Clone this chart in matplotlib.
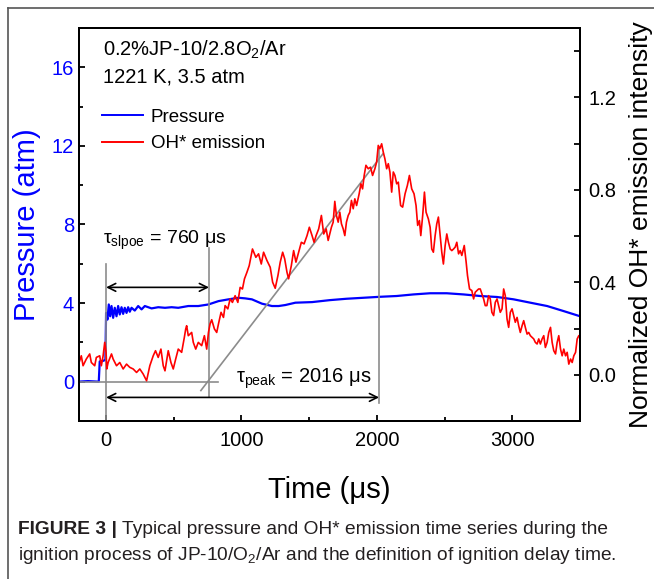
import matplotlib
matplotlib.use('Agg')
import matplotlib.pyplot as plt
from matplotlib.ticker import MultipleLocator, FormatStrFormatter
from matplotlib.lines import Line2D

plt.rcParams['font.family'] = ['Liberation Sans', 'DejaVu Sans']
plt.rcParams['mathtext.fontset'] = 'custom'
plt.rcParams['mathtext.rm'] = 'Liberation Sans'
plt.rcParams['mathtext.it'] = 'Liberation Sans:italic'
plt.rcParams['mathtext.bf'] = 'Liberation Sans:bold'

# pressure trace (us, atm)
p_time = [-207, -133, -54, -47, -22, -5, 0, 10, 20, 30, 40, 52, 64, 77, 89, 101, 114,
          126, 138, 151, 163, 175, 188, 212, 237, 262, 286, 336, 385, 435, 484, 533,
          607, 681, 756, 830, 904, 978, 1027, 1077, 1151, 1225, 1274, 1323, 1398,
          1521, 1652, 1775, 1899, 2022, 2146, 2269, 2393, 2516, 2640, 2763, 2887,
          3010, 3133, 3257, 3380, 3500]
p_atm = [0.0, 0.03, 0.0, 1.03, 1.06, 1.11, 3.5, 3.16, 3.93, 3.33, 3.85, 3.25, 3.76,
         3.33, 3.85, 3.42, 3.79, 3.45, 3.76, 3.50, 3.79, 3.56, 3.76, 3.62, 3.85, 3.68,
         3.85, 3.73, 3.79, 3.76, 3.79, 3.76, 3.85, 3.85, 3.93, 4.10, 4.19, 4.27, 4.24,
         4.19, 3.97, 3.85, 3.85, 3.90, 4.02, 4.05, 4.15, 4.22, 4.27, 4.32, 4.36, 4.44,
         4.50, 4.50, 4.44, 4.36, 4.31, 4.19, 4.02, 3.85, 3.59, 3.33]

# OH* emission trace (us, normalized)
oh_time = [-207, -183, -170, -146, -121, -109, -84, -72, -47, -35, -22, -10, 0, 5, 15,
           40, 52, 77, 101, 126, 151, 175, 200, 225, 249, 274, 299, 323, 348, 365, 385,
           405, 422, 435, 459, 479, 496, 514, 533, 558, 578, 588, 595, 607, 632, 644,
           662, 681, 706, 726, 743, 756, 768, 780, 800, 817, 830, 849, 867, 879, 899,
           916, 933, 953, 973, 990, 1007, 1022, 1040, 1057, 1072, 1081, 1106, 1126,
           1146, 1163, 1188, 1212, 1230, 1249, 1269, 1286, 1304, 1319, 1336, 1348,
           1368, 1385, 1402, 1422, 1442, 1462, 1484, 1501, 1521, 1536, 1551, 1570,
           1590, 1607, 1625, 1640, 1652, 1664, 1677, 1689, 1701, 1714, 1726, 1738,
           1751, 1763, 1775, 1788, 1800, 1812, 1825, 1837, 1850, 1869, 1882, 1894,
           1906, 1919, 1936, 1953, 1968, 1985, 1998, 2010, 2022, 2035, 2047, 2059,
           2072, 2084, 2096, 2109, 2121, 2133, 2146, 2158, 2175, 2190, 2208, 2225,
           2240, 2257, 2274, 2289, 2301, 2314, 2324, 2338, 2351, 2363, 2380, 2393,
           2405, 2417, 2430, 2442, 2454, 2467, 2479, 2491, 2504, 2516, 2528, 2541,
           2553, 2566, 2578, 2590, 2603, 2615, 2627, 2645, 2659, 2669, 2684, 2701,
           2714, 2726, 2738, 2751, 2763, 2775, 2788, 2800, 2812, 2825, 2837, 2849,
           2862, 2874, 2887, 2899, 2911, 2924, 2936, 2948, 2961, 2973, 2985, 2998,
           3010, 3022, 3035, 3047, 3059, 3072, 3084, 3096, 3109, 3121, 3133, 3146,
           3158, 3170, 3183, 3195, 3207, 3220, 3232, 3244, 3257, 3269, 3282, 3294,
           3306, 3319, 3331, 3343, 3356, 3368, 3380, 3393, 3405, 3417, 3430, 3442,
           3454, 3467, 3479, 3491, 3504]
oh_norm = [0.039, 0.082, 0.039, 0.068, 0.090, 0.053, 0.039, 0.075, 0.082, 0.039, 0.082,
           0.140, 0.097, 0.025, 0.053, 0.090, 0.068, 0.039, 0.053, 0.025, 0.046, 0.032,
           0.025, 0.010, 0.025, 0.003, -0.026, 0.039, 0.082, 0.104, 0.075, 0.111, 0.039,
           0.017, 0.104, 0.053, 0.025, 0.068, 0.111, 0.097, 0.162, 0.198, 0.212, 0.169,
           0.183, 0.140, 0.111, 0.140, 0.126, 0.169, 0.111, 0.183, 0.220, 0.238, 0.198,
           0.183, 0.220, 0.270, 0.248, 0.299, 0.285, 0.328, 0.313, 0.342, 0.313, 0.378,
           0.371, 0.415, 0.443, 0.472, 0.516, 0.544, 0.508, 0.523, 0.479, 0.530, 0.494,
           0.465, 0.400, 0.374, 0.429, 0.487, 0.530, 0.501, 0.443, 0.415, 0.472, 0.537,
           0.487, 0.530, 0.573, 0.566, 0.602, 0.638, 0.602, 0.573, 0.602, 0.631, 0.689,
           0.609, 0.631, 0.581, 0.609, 0.638, 0.660, 0.750, 0.689, 0.660, 0.703, 0.653,
           0.631, 0.602, 0.660, 0.689, 0.703, 0.754, 0.718, 0.761, 0.732, 0.783, 0.826,
           0.804, 0.862, 0.906, 0.891, 0.898, 0.862, 0.891, 0.920, 0.992, 0.978, 0.999,
           0.963, 0.934, 0.891, 0.913, 0.877, 0.790, 0.877, 0.862, 0.826, 0.833, 0.732,
           0.725, 0.783, 0.819, 0.862, 0.804, 0.783, 0.732, 0.646, 0.667, 0.602, 0.689,
           0.790, 0.703, 0.674, 0.638, 0.544, 0.530, 0.602, 0.653, 0.682, 0.602, 0.530,
           0.479, 0.559, 0.609, 0.573, 0.544, 0.537, 0.544, 0.552, 0.573, 0.523, 0.537,
           0.516, 0.559, 0.487, 0.429, 0.371, 0.364, 0.328, 0.357, 0.364, 0.371, 0.371,
           0.350, 0.328, 0.299, 0.299, 0.342, 0.328, 0.270, 0.256, 0.313, 0.328, 0.299,
           0.270, 0.285, 0.371, 0.342, 0.241, 0.205, 0.270, 0.285, 0.256, 0.227, 0.248,
           0.212, 0.183, 0.212, 0.234, 0.205, 0.176, 0.183, 0.169, 0.162, 0.155, 0.140,
           0.133, 0.155, 0.133, 0.155, 0.169, 0.118, 0.140, 0.183, 0.205, 0.140, 0.104,
           0.090, 0.140, 0.169, 0.111, 0.082, 0.111, 0.082, 0.097, 0.046, 0.068, 0.053,
           0.082, 0.097, 0.155, 0.169, 0.169]

tau_slope = 760
tau_peak = 2016

fig = plt.figure(figsize=(6.54, 5.79), dpi=100)
ax = fig.add_axes([0.1208, 0.2729, 0.7661, 0.6788])
ax2 = ax.twinx()

ax.plot(p_time, p_atm, color='#0000ff', lw=1.6)
ax2.plot(oh_time, oh_norm, color='#ff0000', lw=1.2)

# construction lines for ignition delay
gray = '#8c8c8c'
ax.plot([-200, 830], [0, 0], color=gray, lw=1.2)
ax.plot([0, 0], [-2, 6.0], color=gray, lw=1.2)
ax.plot([tau_slope, tau_slope], [-0.8, 6.8], color=gray, lw=1.2)
ax.plot([tau_peak, tau_peak], [-1.1, 11.9], color=gray, lw=1.2)
ax.plot([700, 2045], [-0.45, 11.6], color=gray, lw=1.2)

ax.annotate('', xy=(tau_slope, 4.8), xytext=(0, 4.8),
            arrowprops=dict(arrowstyle='<->', color='black', lw=1.2,
                            shrinkA=0, shrinkB=0, mutation_scale=14))
ax.annotate('', xy=(tau_peak, -0.8), xytext=(0, -0.8),
            arrowprops=dict(arrowstyle='<->', color='black', lw=1.2,
                            shrinkA=0, shrinkB=0, mutation_scale=14))

ax.text(-22, 7.2, r'$\mathregular{τ_{slpoe}}$ = 760 μs', fontsize=14, va='center')
ax.text(958, 0.15, r'$\mathregular{τ_{peak}}$ = 2016 μs', fontsize=14.5, va='center')
ax.text(-22, 16.9, r'0.2%JP-10/2.8O$\mathregular{_2}$/Ar', fontsize=14.5, va='center')
ax.text(-22, 15.5, '1221 K, 3.5 atm', fontsize=14.5, va='center')

ax.set_xlim(-200, 3500)
ax.set_ylim(-2, 18)
ax2.set_ylim(-0.2, 1.5)

ax.xaxis.set_major_locator(MultipleLocator(1000))
ax.xaxis.set_minor_locator(MultipleLocator(500))
ax.yaxis.set_major_locator(MultipleLocator(4))
ax.yaxis.set_minor_locator(MultipleLocator(2))
ax2.yaxis.set_major_locator(MultipleLocator(0.4))
ax2.yaxis.set_minor_locator(MultipleLocator(0.2))
ax2.yaxis.set_major_formatter(FormatStrFormatter('%.1f'))

ax.tick_params(axis='both', which='both', direction='in', width=1.3, labelsize=14.5)
ax.tick_params(axis='both', which='major', length=4.5)
ax.tick_params(axis='both', which='minor', length=3)
ax.tick_params(axis='y', labelcolor='#0000ff', right=False)
ax.tick_params(axis='x', top=False, pad=7)
ax2.tick_params(axis='y', which='both', direction='in', width=1.3, length=4.5,
                labelsize=14.5, pad=6)
for a in (ax, ax2):
    for s in a.spines.values():
        s.set_linewidth(1.4)

ax.set_xlabel('Time (μs)', fontsize=21, labelpad=19)
ax.set_ylabel('Pressure (atm)', fontsize=21, color='#0000ff', labelpad=8)
ax2.set_ylabel('Normalized OH* emission intensity', fontsize=19, labelpad=9)

handles = [Line2D([], [], color='#0000ff', lw=1.4), Line2D([], [], color='#ff0000', lw=1.4)]
ax2.legend(handles, ['Pressure', 'OH* emission'], loc='upper left',
           bbox_to_anchor=(0.046, 0.795), frameon=False, fontsize=13.5,
           handlelength=2.2, handletextpad=0.4, labelspacing=0.5,
           borderpad=0, borderaxespad=0)

# frame of the figure panel
fig.add_artist(Line2D([8 / 654, 1], [1 - 8 / 579, 1 - 8 / 579], color='#555555', lw=1.2))
fig.add_artist(Line2D([8 / 654, 8 / 654], [0, 1 - 8 / 579], color='#555555', lw=1.2))

# caption
cap_font = ['Liberation Sans', 'DejaVu Sans']
t1 = fig.text(18 / 654, 1 - 529 / 579, 'FIGURE 3 |', fontsize=13.8, fontweight='bold',
              family=cap_font, va='center', color='#231f20')
fig.canvas.draw()
bb = t1.get_window_extent()
x_after = (bb.x1 + 5) / fig.bbox.width
fig.text(x_after, 1 - 529 / 579, 'Typical pressure and OH* emission time series during the',
         fontsize=13.8, family=cap_font, va='center', color='#231f20')
fig.text(18 / 654, 1 - 556 / 579,
         r'ignition process of JP-10/O$\mathregular{_2}$/Ar and the definition of ignition delay time.',
         fontsize=13.8, family=cap_font, va='center', color='#231f20')

fig.savefig('out.png', dpi=100)
